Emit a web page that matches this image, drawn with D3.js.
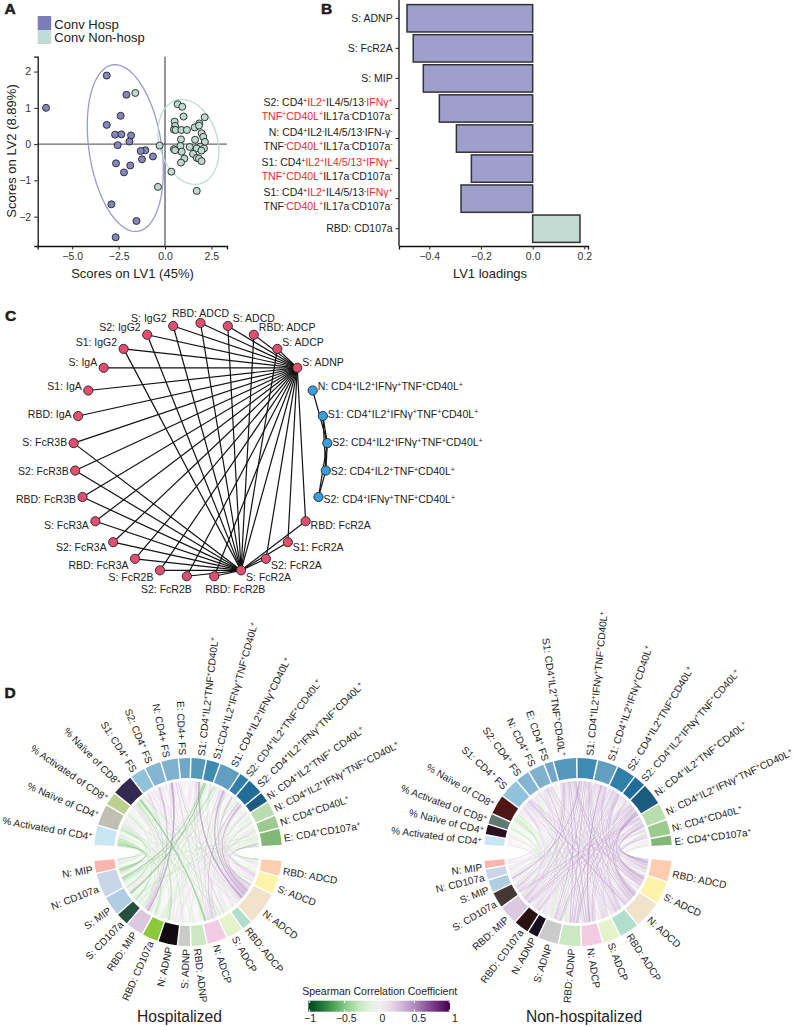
<!DOCTYPE html>
<html>
<head>
<meta charset="utf-8">
<script src="https://cdnjs.cloudflare.com/ajax/libs/d3/7.8.5/d3.min.js"></script>
<style>
  html, body { margin: 0; padding: 0; background: #fff; }
  svg { display: block; }
  text { font-family: "Liberation Sans", Arial, sans-serif; fill: #222; }
</style>
</head>
<body>
<div id="chart"></div>
<script>
// ---- panel A data (LV1, LV2)
const hospX = [-6.41,-3.14,-2.08,-2.39,-3.14,-2.69,-2.35,-1.83,-1.92,-2.55,-1.06,-1.31,-1.24,-.65,-2.64,-1.87,-2.21,-2.89,-1.54,-2.66];
const hospY = [1.0,1.89,1.36,.78,.53,.26,.27,.24,.07,-.03,-.17,-.19,-.42,-.34,-.53,-.59,-.78,-1.66,-2.12,-2.57];
const nonHospX = [-1.6,-.29,.34,-.38,1.71,.68,.93,1.0,.52,.54,.48,.57,.88,1.18,1.6,1.85,1.83,2.14,1.97,2.06,.86,1.62,2.15,.83,1.33,1.9,2.1,.48,.54,.9,1.71,1.96,1.51,1.04,1.71,1.83,1.97,.86];
const nonHospY = [1.41,-.04,-.76,-1.18,-1.29,1.1,1.03,.76,.62,.5,.4,.39,.39,.39,.46,.57,.51,.74,.3,.2,.13,.12,.06,-.05,-.08,-.07,-.12,-.14,-.17,-.21,-.12,-.18,-.27,-.4,-.38,-.4,-.47,-.51];
// ellipse: centre x, centre y, sd x, sd y, correlation
const hospEllipse = [-2.14,-.11,2.05,2.3,-.27];
const nonHospEllipse = [1.26,.06,1.64,1.17,-.22];
const scoreXTicks = [-5,-2.5,0,2.5];
const scoreYTicks = [-2,-1,0,1,2];

// ---- panel B data
const loadingLabels = [
  ["S: ADNP"],
  ["S: FcR2A"],
  ["S: MIP"],
  ["S2: CD4^+[IL2^+]IL4/5/13^-[IFNγ^+]", "[TNF^+CD40L^+]IL17a^-CD107a^-"],
  ["N: CD4^+IL2^-IL4/5/13^-IFN-γ^-", "TNF^-[CD40L^+]IL17a^-CD107a^-"],
  ["S1: CD4^+[IL2^+IL4/5/13^+IFNγ^+]", "[TNF^+CD40L^+]IL17a^-CD107a^-"],
  ["S1: CD4^+[IL2^+]IL4/5/13^-[IFNγ^+]", "TNF^-[CD40L^+]IL17a^-CD107a^-"],
  ["RBD: CD107a"]
];
const loadingValues = [-.486,-.462,-.423,-.361,-.295,-.237,-.277,.183];
const loadingTicks = [-.4,-.2,0,.2];

// ---- panel C data, clockwise from the top of the circle
const networkNodes = ["RBD: ADCD","S: ADCD","RBD: ADCP","S: ADCP","S: ADNP",
  "N: CD4^+IL2^+IFNγ^+TNF^+CD40L^+","S1: CD4^+IL2^+IFNγ^+TNF^+CD40L^+","S2: CD4^+IL2^+IFNγ^+TNF^+CD40L^+","S2: CD4^+IL2^+TNF^+CD40L^+","S2: CD4^+IFNγ^+TNF^+CD40L^+",
  "RBD: FcR2A","S1: FcR2A","S2: FcR2A","S: FcR2A","RBD: FcR2B","S2: FcR2B","S: FcR2B",
  "RBD: FcR3A","S2: FcR3A","S: FcR3A","RBD: FcR3B","S2: FcR3B","S: FcR3B",
  "RBD: IgA","S1: IgA","S: IgA","S1: IgG2","S2: IgG2","S: IgG2"];
const tcellNodes = networkNodes.slice(5,10);
const noFcr2aLink = ["RBD: IgA","S1: IgA","S: IgA"];
const tcellLinks = [[5,7],[6,7],[6,8],[7,8],[7,9],[8,9]];

// ---- panel D data
const topLabelsHosp = ["% Activated of CD4^+","% Naïve of CD4^+","% Activated of CD8^+","% Naïve of CD8^+","S1: CD4^+ FS","S2: CD4^+ FS","N: CD4+ FS","E: CD4+ FS",
  "S1: CD4^+IL2^+TNF^+CD40L^+","S1:CD4^+IL2^+IFNγ^+TNF^+CD40L^+","S1: CD4^+IL2^+IFNγ^+CD40L^+","S2: CD4^+IL2^+TNF^+CD40L^+","S2: CD4^+IL2^+IFNγ^+TNF^+CD40L^+","N: CD4^+IL2^+TNF^+ CD40L^+","N: CD4^+IL2^+IFNγ^+TNF^+CD40L^+","N: CD4^+CD40L^+","E: CD4^+CD107a^+"];
const topLabelsNon = ["% Activated of CD4^+","% Naïve of CD4^+","% Activated of CD8^+","% Naïve of CD8^+","S1: CD4^+ FS","S2: CD4^+ FS","N: CD4^+ FS","E: CD4^+ FS",
  "S1: CD4^+IL2^+TNF^+CD40L^+","S1: CD4^+IL2^+IFNγ^+TNF^+CD40L^+","S1: CD4^+IL2^+IFNγ^+CD40L^+","S2: CD4^+IL2^+TNF^+CD40L^+","S2: CD4^+IL2^+IFNγ^+TNF^+CD40L^+","N: CD4^+IL2^+TNF^+CD40L^+","N: CD4^+IL2^+IFNγ^+TNF^+CD40L^+","N: CD4^+CD40L^+","E: CD4^+CD107a^+"];
const bottomLabels = ["RBD: ADCD","S: ADCD","N: ADCD","RBD: ADCP","S: ADCP","N: ADCP","RBD: ADNP","S: ADNP","N: ADNP","RBD: CD107a","RBD: MIP","S: CD107a","S: MIP","N: CD107a","N: MIP"];

// sector sizes in degrees
const topSizeHosp = [12.1,12.9,8.2,13.3,9.5,9.9,10.4,7.1,9,8.1,13,6.2,9.9,6.4,8.6,7.7,10.2];
const bottomSizeHosp = [9.4,11,20.4,6.3,10.3,12.1,9.3,7.6,11.5,9.8,10.5,7.7,12,15.1,7.5];
const topSizeNon = [5.9,5.9,6.1,11.8,11.9,8.4,9.7,5.2,13.8,12.1,12.1,11.3,7.3,13.3,10,9,5.8];
const bottomSizeNon = [13,14,16.9,12.1,10.7,12.7,13.5,12.5,6.3,9.2,11.6,9.7,7.5,6.3,4.8];

const topColorsHosp = ["#c9e6f3","#bfbfb3","#becf92","#322850","#90c2dc","#85b5d4","#7fb0ce","#71a8c9","#5498bc","#3f8ab0","#619ec0","#2f7fa8","#206d9a","#1c5c82","#bbdcaf","#9dcb8f","#82b877"];
const topColorsNon = ["#c9e6f3","#2a1020","#5f7a72","#4e1616","#90c2dc","#85b5d4","#7fb0ce","#71a8c9","#5498bc","#3f8ab0","#619ec0","#2f7fa8","#206d9a","#1c5c82","#bbdcaf","#9dcb8f","#82b877"];
const bottomColorsHosp = ["#fccdae","#fef3a8","#f0e2cb","#b2dfcd","#e6f2c9","#f3cbe3","#cce7c3","#cbcbcb","#120a10","#8bc93b","#dcc9e0","#255040","#b0cde3","#c9d5e9","#fbb4ae"];
const bottomColorsNon = ["#fccdae","#fef3a8","#f0e2cb","#b2dfcd","#e6f2c9","#f3cbe3","#cce7c3","#cbcbcb","#150c1e","#2a1012","#dcc9e0","#443835","#b0cde3","#c9d5e9","#fbb4ae"];

// correlation, one row per top sector, one column per bottom sector
const corrHosp = [
  [-.2,-.2,.1,-.1,-.3,.1,-.2,-.1,.1,-.4,-.3,-.45,-.4,-.5,-.4],
  [.1,-.1,.2,-.2,-.1,.2,-.1,.1,.2,-.3,.2,-.3,-.2,-.4,-.3],
  [-.1,-.1,.1,.1,-.2,.1,-.1,-.1,.1,-.2,-.1,-.2,-.1,-.3,-.2],
  [-.2,-.3,-.2,-.1,-.3,-.55,-.2,-.3,-.4,-.2,.3,-.2,.1,.2,.2],
  [.1,.2,.2,.1,.1,.2,.2,.1,.1,.1,.3,.1,.2,.1,.1],
  [.1,.1,.2,.1,.1,.1,.1,.2,.1,-.1,.4,.1,.1,-.1,.1],
  [.1,.2,.3,.1,.1,.3,.1,.1,.2,.1,.55,.2,.2,.1,.1],
  [-.1,.1,.1,.1,.1,.1,-.1,.1,.1,-.1,.1,.1,.1,-.1,.1],
  [.2,.2,.55,.2,.3,.3,-.1,.1,.1,.1,.2,.1,.2,.1,.1],
  [.1,.2,.3,.1,.1,.1,-.1,-.1,-.2,-.2,-.3,-.3,-.55,-.5,-.3],
  [.2,.3,.5,.2,.1,.3,.1,.1,.2,-.1,.1,-.3,-.2,-.4,-.2],
  [.1,.3,.4,.1,.1,.1,-.1,.1,.1,-.2,-.1,-.2,-.1,-.3,-.1],
  [.2,.3,.5,.2,.2,.4,-.1,-.1,.1,-.3,-.1,-.2,-.2,-.2,-.1],
  [-.1,.1,.3,.1,-.1,.2,.1,-.1,.1,-.2,-.1,-.2,-.1,-.1,-.1],
  [-.2,-.1,.3,-.1,-.2,.2,-.2,.1,.1,-.3,.1,-.2,-.2,-.2,-.1],
  [-.2,.1,.2,-.1,-.2,.3,-.1,-.2,.2,-.2,.1,-.1,-.2,-.1,-.1],
  [-.4,-.3,.4,-.2,-.1,.2,-.2,-.2,.1,-.3,-.1,-.3,-.3,-.2,-.3]
];
const corrNon = [
  [.1,.1,.1,.1,-.1,.1,.1,-.1,.1,.1,.1,-.1,.1,.1,.1],
  [.1,-.1,.1,-.1,.1,.1,-.1,.1,-.2,-.2,-.1,.1,-.1,-.1,.1],
  [-.1,-.2,.1,-.1,-.2,-.1,-.2,-.1,-.1,-.2,-.3,-.2,-.2,-.1,-.1],
  [.2,.1,.2,.1,.1,-.1,-.3,-.2,.1,-.1,-.3,-.3,-.3,-.2,-.2],
  [.3,.3,.4,.3,.2,.3,.2,.2,.1,.2,.3,.2,.2,.1,.1],
  [.2,.1,.3,.2,-.1,.2,-.2,-.3,.1,.2,.1,.1,.1,.1,.1],
  [.3,.2,.3,.3,.2,.4,.2,.2,.3,.1,.2,.2,.1,.1,.1],
  [.1,-.1,.1,.1,-.1,.1,-.2,-.2,.1,-.1,.1,.1,-.1,.1,.1],
  [.4,.4,.3,.3,.2,.4,.4,.3,.2,.3,.4,.4,.3,.2,.2],
  [.3,.3,.4,.4,.3,.3,.4,.4,.2,.3,.4,.3,.5,.2,.2],
  [.3,.4,.3,.3,.3,.5,.3,.3,.2,.3,.3,.3,.2,.2,.1],
  [.4,.4,.4,.3,.3,.3,.4,.3,.2,.3,.3,.2,.2,.1,.1],
  [.3,.3,.3,.2,.2,.2,.2,.2,.2,.2,.2,.3,.1,.1,.1],
  [.5,.5,.5,.4,.3,.4,.4,.4,.2,.4,.4,.3,.2,.2,.2],
  [.4,.4,.4,.3,.2,.3,.4,.3,.1,.3,.4,.4,.2,.1,.1],
  [.3,.3,.3,-.2,.3,.3,-.2,-.2,.1,.2,.3,.3,-.2,.1,.2],
  [-.2,-.1,.2,.2,-.2,.1,.2,-.1,.1,.1,.2,.1,.1,.1,.1]
];
const legendTicks = [-1,-.5,0,.5,1];

function rad(d) { return d * Math.PI / 180; }

let svg = d3.select("#chart").append("svg")
  .attr("width", 794)
  .attr("height", 1027);

// writes "a^+[red^-]b": ^x is a superscript, [..] is red
function richText(sel, str, size) {
  let red = false, up = false;
  let parts = str.match(/\[|\]|\^.|[^\[\]^]+/g);
  parts.forEach(function(p) {
    if (p == "[") { red = true; return; }
    if (p == "]") { red = false; return; }
    let sup = p[0] == "^";
    let t = sel.append("tspan")
      .text(sup ? p[1] : p)
      .attr("font-size", sup ? size * 0.68 : size)
      .style("fill", red ? "#ee2a2a" : null);
    if (sup && !up) t.attr("dy", -size * 0.33);
    if (!sup && up) t.attr("dy", size * 0.33);
    up = sup;
  });
}

function styleAxis(g, tickSize) {
  g.selectAll("path").attr("stroke", "#111").attr("stroke-width", 1.3);
  g.selectAll("line").attr("stroke", "#222").attr("stroke-width", 1);
  g.selectAll("text").attr("font-size", tickSize).style("font-family", null).style("fill", "#333");
}

function panelLetter(s, x, y) {
  svg.append("text").text(s).attr("x", x).attr("y", y)
    .attr("font-size", 15.5).attr("font-weight", "bold")
    .attr("stroke", "#111").attr("stroke-width", .5);
}

panelLetter("A", 4.5, 14);
panelLetter("B", 321, 14);
panelLetter("C", 5, 321);
panelLetter("D", 4.5, 698);

// ---- A: scores plot
const hospFill = "#8486bf", nonHospFill = "#bcdad0";
let ax = d3.scaleLinear().domain([-6.86,3.34]).range([37.7,227]);
let ay = d3.scaleLinear().domain([-2.81,2.41]).range([246,56.7]);

let legendA = svg.append("g");
[["Conv Hosp", "#7b7db9"], ["Conv Non-hosp", "#bfddd5"]].forEach(function(d, i) {
  legendA.append("rect").attr("x", 37.7).attr("y", 16 + i * 14).attr("width", 13.5).attr("height", 14).attr("fill", d[1]);
  legendA.append("text").text(d[0]).attr("x", 54.3).attr("y", 28.5 + i * 13.5).attr("font-size", 13);
});

// zero lines
svg.append("line").attr("x1", ax(0)).attr("x2", ax(0)).attr("y1", ay.range()[0]).attr("y2", ay.range()[1])
  .attr("stroke", "#8a8a8a").attr("stroke-width", 1.8);
svg.append("line").attr("x1", ax.range()[0]).attr("x2", ax.range()[1]).attr("y1", ay(0)).attr("y2", ay(0))
  .attr("stroke", "#444").attr("stroke-width", 1);

function ellipsePoints(e) {
  let r = e[4];
  return d3.range(0, 361, 4).map(function(a) {
    let t = rad(a);
    return [e[0] + e[2] * Math.cos(t),
            e[1] + e[3] * (r * Math.cos(t) + Math.sqrt(1 - r * r) * Math.sin(t))];
  });
}
let ellipseLine = d3.line().x(function(d) { return ax(d[0]); }).y(function(d) { return ay(d[1]); });
svg.append("path").attr("d", ellipseLine(ellipsePoints(hospEllipse))).attr("fill", "none").attr("stroke", "#9a9bd0").attr("stroke-width", 1.3);
svg.append("path").attr("d", ellipseLine(ellipsePoints(nonHospEllipse))).attr("fill", "none").attr("stroke", "#bfddd3").attr("stroke-width", 1.3);

function drawScores(xs, ys, color) {
  svg.append("g").selectAll("circle").data(xs).join("circle")
    .attr("cx", function(d) { return ax(d); })
    .attr("cy", function(d, i) { return ay(ys[i]); })
    .attr("r", 3.5)
    .attr("fill", color)
    .attr("stroke", "#222")
    .attr("stroke-width", .9);
}
drawScores(nonHospX, nonHospY, nonHospFill);
drawScores(hospX, hospY, hospFill);

let axA = svg.append("g").attr("transform", "translate(0,246)")
  .call(d3.axisBottom(ax).tickValues(scoreXTicks).tickFormat(function(d) { return d3.format(".1f")(d).replace("-", "−"); }).tickSizeOuter(0).tickSize(3.5));
styleAxis(axA, 10.5);
let ayA = svg.append("g").attr("transform", "translate(37.7,0)")
  .call(d3.axisLeft(ay).tickValues(scoreYTicks).tickFormat(function(d) { return String(d).replace("-", "−"); }).tickSizeOuter(0).tickSize(3.5));
styleAxis(ayA, 10.5);
svg.append("text").text("Scores on LV1 (45%)").attr("x", 132.5).attr("y", 278).attr("text-anchor", "middle").attr("font-size", 13);
svg.append("text").text("Scores on LV2 (8.89%)").attr("transform", "translate(16,151) rotate(-90)").attr("text-anchor", "middle").attr("font-size", 13);

// ---- B: loadings
let bx = d3.scaleLinear().domain([-.517,.214]).range([399,588]);
let by = d3.scaleBand().domain(d3.range(loadingValues.length)).range([.5,246.5]).paddingInner(.09).paddingOuter(.137);

svg.append("g").selectAll("rect").data(loadingValues).join("rect")
  .attr("x", function(d) { return bx(Math.min(d, 0)); })
  .attr("y", function(d, i) { return by(i); })
  .attr("width", function(d) { return Math.abs(bx(d) - bx(0)); })
  .attr("height", by.bandwidth())
  .attr("fill", function(d) { return d < 0 ? "#9e9fcd" : "#c3dad3"; })
  .attr("stroke", "#333")
  .attr("stroke-width", 1.5);

let axB = svg.append("g").attr("transform", "translate(0,246)")
  .call(d3.axisBottom(bx).tickValues(loadingTicks).tickFormat(function(d) { return d3.format(".1f")(d).replace("-", "−"); }).tickSizeOuter(0).tickSize(3.5));
styleAxis(axB, 10.5);
svg.append("line").attr("x1", 399).attr("x2", 399).attr("y1", 0).attr("y2", 246).attr("stroke", "#111").attr("stroke-width", 1.3);
loadingLabels.forEach(function(lines, i) {
  let cy = by(i) + by.bandwidth() / 2;
  svg.append("line").attr("x1", 395.5).attr("x2", 399).attr("y1", cy).attr("y2", cy).attr("stroke", "#222");
  lines.forEach(function(s, k) {
    let t = svg.append("text").attr("x", 392.7).attr("text-anchor", "end")
      .attr("y", lines.length == 1 ? cy + 3.5 : cy - 2.5 + k * 13.7);
    richText(t, s, 10.5);
  });
});
svg.append("text").text("LV1 loadings").attr("x", 490).attr("y", 278).attr("text-anchor", "middle").attr("font-size", 13);

// ---- C: circular network
const netCx = 200.5, netCy = 450, netR = 127;
let netAngle = d3.scaleLinear().domain([0, networkNodes.length]).range([0, 2 * Math.PI]);
function nodePos(i) {
  let p = d3.pointRadial(netAngle(i), netR);
  return [p[0] + netCx, p[1] + netCy];
}
let links = [];
const hubA = networkNodes.indexOf("S: ADNP"), hubB = networkNodes.indexOf("S: FcR2A");
networkNodes.forEach(function(n, i) {
  if (tcellNodes.includes(n)) return;
  if (i != hubA) links.push([hubA, i]);
  if (i != hubB && i != hubA && !noFcr2aLink.includes(n)) links.push([hubB, i]);
});
links = links.concat(tcellLinks);

svg.append("g").selectAll("line").data(links).join("line")
  .attr("x1", function(d) { return nodePos(d[0])[0]; })
  .attr("y1", function(d) { return nodePos(d[0])[1]; })
  .attr("x2", function(d) { return nodePos(d[1])[0]; })
  .attr("y2", function(d) { return nodePos(d[1])[1]; })
  .attr("stroke", "#111")
  .attr("stroke-width", 1.2);

svg.append("g").selectAll("circle").data(networkNodes).join("circle")
  .attr("cx", function(d, i) { return nodePos(i)[0]; })
  .attr("cy", function(d, i) { return nodePos(i)[1]; })
  .attr("r", 4.6)
  .attr("fill", function(d) { return tcellNodes.includes(d) ? "#3a9fdc" : "#e04f70"; })
  .attr("stroke", "#222")
  .attr("stroke-width", .9);

// a few labels sit away from the plain radial rule
const labelNudge = { "RBD: ADCD": [0, -10, "middle"], "RBD: FcR2B": [-9, 13.5, "start"], "S2: FcR2B": [5, 13.5, "end"] };
networkNodes.forEach(function(n, i) {
  let a = netAngle(i), p = nodePos(i);
  let right = Math.sin(a) > 0;
  let nudge = labelNudge[n] || [right ? 5 : -6.5, -Math.cos(a) * 7.5, right ? "start" : "end"];
  let t = svg.append("text")
    .attr("x", p[0] + nudge[0])
    .attr("y", p[1] + nudge[1] + 3.5)
    .attr("text-anchor", nudge[2]);
  richText(t, n, 10.5);
});

// ---- D: chord diagrams
const ringOuter = 94, ringInner = 74, ribbonR = 71;
let corrColor = function(v) { return d3.interpolatePRGn((1 - v) / 2); };

// like d3.ribbon, but the curve bends around a point near the centre, not through it
function ribbonPath(d) {
  let polar = function(a) { return [ribbonR * Math.sin(a), -ribbonR * Math.cos(a)]; };
  let ctrl = function(a, b) {
    let p = polar(a), q = polar(b);
    return [(p[0] + q[0]) * .5 * .22, (p[1] + q[1]) * .5 * .22];
  };
  let s = d.source, t = d.target, h = Math.PI / 2;
  let path = d3.path();
  let s0 = polar(s.startAngle), t0 = polar(t.startAngle);
  let c1 = ctrl(s.endAngle, t.startAngle), c2 = ctrl(t.endAngle, s.startAngle);
  path.moveTo(s0[0], s0[1]);
  path.arc(0, 0, ribbonR, s.startAngle - h, s.endAngle - h);
  path.quadraticCurveTo(c1[0], c1[1], t0[0], t0[1]);
  path.arc(0, 0, ribbonR, t.startAngle - h, t.endAngle - h);
  path.quadraticCurveTo(c2[0], c2[1], s0[0], s0[1]);
  path.closePath();
  return path.toString();
}

function drawChord(cx, cy, topLabels, topSize, bottomSize, topColors, bottomColors, corr) {
  let g = svg.append("g").attr("transform", "translate(" + cx + "," + cy + ")");
  let pad = rad(.7);
  let topArcs = d3.pie().sort(null).value(function(d) { return d; }).padAngle(pad)
    .startAngle(rad(-86)).endAngle(rad(86))(topSize);
  let bottomArcs = d3.pie().sort(null).value(function(d) { return d; }).padAngle(pad)
    .startAngle(rad(95)).endAngle(rad(265))(bottomSize);

  // split each sector's arc between its links, in descending order of partner
  let topSlots = {}, bottomSlots = {};
  topArcs.forEach(function(arc, i) {
    let row = corr[i];
    let total = d3.sum(row, Math.abs), a = arc.startAngle + pad / 2;
    let w = arc.endAngle - arc.startAngle - pad;
    d3.range(row.length - 1, -1, -1).forEach(function(j) {
      let da = w * Math.abs(row[j]) / total;
      topSlots[i + "_" + j] = { startAngle: a, endAngle: a + da };
      a += da;
    });
  });
  bottomArcs.forEach(function(arc, j) {
    let col = corr.map(function(r) { return r[j]; });
    let total = d3.sum(col, Math.abs), a = arc.startAngle + pad / 2;
    let w = arc.endAngle - arc.startAngle - pad;
    d3.range(col.length - 1, -1, -1).forEach(function(i) {
      let da = w * Math.abs(col[i]) / total;
      bottomSlots[i + "_" + j] = { startAngle: a, endAngle: a + da };
      a += da;
    });
  });

  let ribbons = [];
  corr.forEach(function(row, i) {
    row.forEach(function(v, j) { ribbons.push({ v: v, source: topSlots[i + "_" + j], target: bottomSlots[i + "_" + j] }); });
  });
  ribbons.sort(function(a, b) { return Math.abs(a.v) - Math.abs(b.v); });
  g.append("g").selectAll("path").data(ribbons).join("path")
    .attr("d", ribbonPath)
    .attr("fill", function(d) { return corrColor(d.v); })
    .attr("fill-opacity", .6);

  let sectorArc = d3.arc().innerRadius(ringInner).outerRadius(ringOuter);
  g.append("g").selectAll("path").data(topArcs).join("path")
    .attr("d", sectorArc).attr("fill", function(d, i) { return topColors[i]; });
  g.append("g").selectAll("path").data(bottomArcs).join("path")
    .attr("d", sectorArc).attr("fill", function(d, i) { return bottomColors[i]; });

  function sectorLabels(arcs, labels) {
    arcs.forEach(function(arc, i) {
      let deg = (arc.startAngle + arc.endAngle) / 2 * 180 / Math.PI;
      let right = deg > 0 && deg < 180;
      let t = g.append("text")
        .attr("transform", "rotate(" + (deg - 90) + ") translate(" + (ringOuter + 3) + ",0)" + (right ? "" : " rotate(180)"))
        .attr("dy", "0.35em")
        .attr("text-anchor", right ? "start" : "end");
      richText(t, labels[i], 10.1);
    });
  }
  sectorLabels(topArcs, topLabels);
  sectorLabels(bottomArcs, bottomLabels);
}

drawChord(188, 852, topLabelsHosp, topSizeHosp, bottomSizeHosp, topColorsHosp, bottomColorsHosp, corrHosp);
drawChord(578, 852, topLabelsNon, topSizeNon, bottomSizeNon, topColorsNon, bottomColorsNon, corrNon);

svg.append("text").text("Hospitalized").attr("x", 179.5).attr("y", 1022).attr("text-anchor", "middle").attr("font-size", 15.6);
svg.append("text").text("Non-hospitalized").attr("x", 584).attr("y", 1022).attr("text-anchor", "middle").attr("font-size", 15.6);

// colour key
let keyX = d3.scaleLinear().domain([-1,1]).range([309.7,449.3]);
let keyLabelX = d3.scaleLinear().domain([-1,1]).range([310,455]);
let grad = svg.append("defs").append("linearGradient").attr("id", "corrKey");
d3.range(-1, 1.001, .1).forEach(function(v) {
  grad.append("stop").attr("offset", keyX.copy().range([0, 100])(v) + "%").attr("stop-color", corrColor(v));
});
svg.append("text").text("Spearman Correlation Coefficient").attr("x", 379.7).attr("y", 995).attr("text-anchor", "middle").attr("font-size", 10.5);
svg.append("rect").attr("x", 308.3).attr("y", 1000.7).attr("width", 141.7).attr("height", 11).attr("fill", "url(#corrKey)");
let keyTicks = svg.append("g").selectAll("g").data(legendTicks).join("g");
keyTicks.append("line").attr("x1", keyX).attr("x2", keyX).attr("y1", 1000.7).attr("y2", 1003).attr("stroke", "#fff");
keyTicks.append("line").attr("x1", keyX).attr("x2", keyX).attr("y1", 1009.4).attr("y2", 1011.7).attr("stroke", "#fff");
keyTicks.append("text").text(function(d) { return String(d).replace("-", "−"); })
  .attr("x", keyLabelX).attr("y", 1021.7).attr("text-anchor", "middle").attr("font-size", 10.5);
</script>
</body>
</html>
